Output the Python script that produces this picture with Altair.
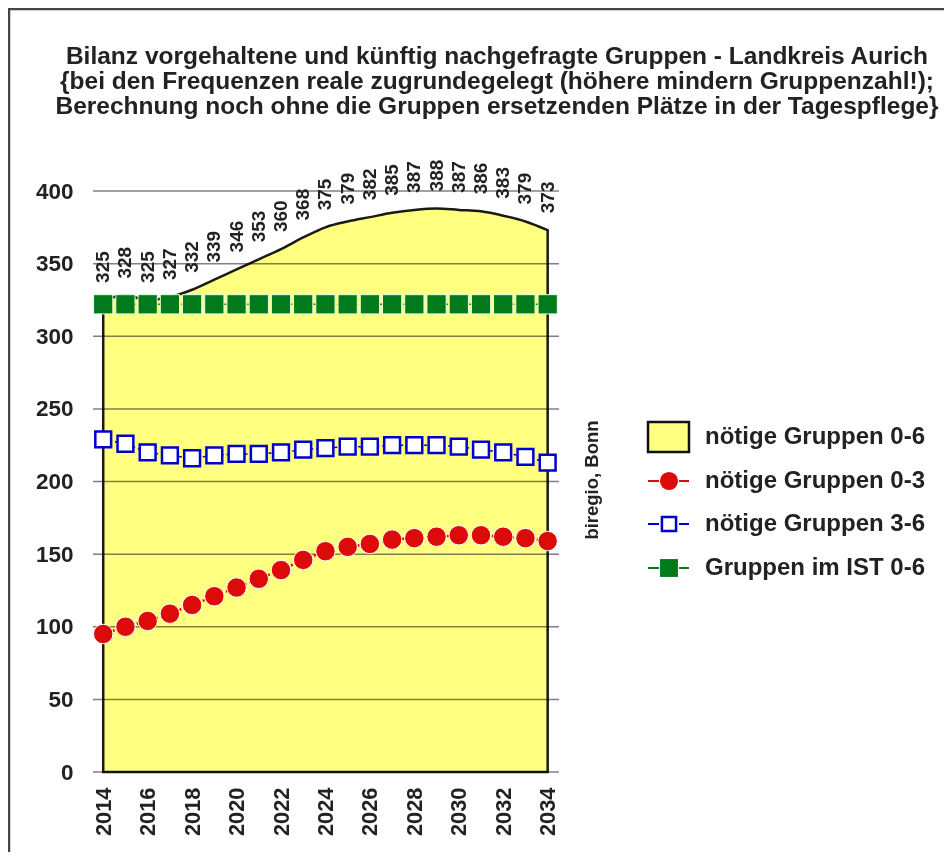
import altair as alt
import pandas as pd

years = list(range(2014, 2035))
total_0_6 = [325, 328, 325, 327, 332, 339, 346, 353, 360, 368, 375, 379, 382, 385, 387, 388, 387, 386, 383, 379, 373]
need_0_3 = [95, 100, 104, 109, 115, 121, 127, 133, 139, 146, 152, 155, 157, 160, 161, 162, 163, 163, 162, 161, 159]
need_3_6 = [229, 226, 220, 218, 216, 218, 219, 219, 220, 222, 223, 224, 224, 225, 225, 225, 224, 222, 220, 217, 213]
ist_0_6 = [322] * 21
grid_vals = [0, 50, 100, 150, 200, 250, 300, 350, 400]
x_ticks = list(range(2014, 2035, 2))

title_lines = [
    "Bilanz vorgehaltene und künftig nachgefragte Gruppen - Landkreis Aurich",
    "{bei den Frequenzen reale zugrundegelegt (höhere mindern Gruppenzahl!);",
    "Berechnung noch ohne die Gruppen ersetzenden Plätze in der Tagespflege}",
]
legend_labels = ["nötige Gruppen 0-6", "nötige Gruppen 0-3", "nötige Gruppen 3-6", "Gruppen im IST 0-6"]
credit = "biregio, Bonn"

F = "Liberation Sans"
TXT = "#222222"
YELLOW = "#ffff80"
RED = "#dd0a0a"
BLUE = "#0000cc"
GREEN = "#007a1a"

W, H = 466, 581

df = pd.DataFrame({
    "year": years,
    "total": total_0_6,
    "n03": need_0_3,
    "n36": need_3_6,
    "ist": ist_0_6,
})
gdf = pd.DataFrame({"g": grid_vals})
one = pd.DataFrame({"a": [0]})

xs = alt.Scale(domain=[2013.54, 2034.51], nice=False, zero=False)
ys = alt.Scale(domain=[0, 400], nice=False)

X = alt.X("year:Q", scale=xs, title=None,
          axis=alt.Axis(values=x_ticks, format="d", labelAngle=-90, grid=False, domain=False,
                        ticks=False, tickSize=0, labelPadding=15, labelFont=F, labelFontSize=21.8,
                        labelFontWeight="bold", labelColor=TXT))
Yax = alt.Axis(values=grid_vals, grid=False, domain=False, ticks=False, tickSize=0, labelPadding=20,
               labelFont=F, labelFontSize=22.5, labelFontWeight="bold", labelColor=TXT)

base = alt.Chart(df)

area = base.mark_area(interpolate="monotone", fill=YELLOW, stroke="#1a1a1a", strokeWidth=2.5).encode(
    x=X, y=alt.Y("total:Q", scale=ys, title=None, axis=Yax)
)

grid = alt.Chart(gdf).mark_rule(color="#808080", strokeWidth=1.5, blend="multiply").encode(
    y=alt.Y("g:Q", scale=ys), x=alt.value(0), x2=alt.value(W)
)

red_line = base.mark_line(color=RED, strokeWidth=2.5, strokeDash=[2, 3]).encode(
    x=alt.X("year:Q", scale=xs), y=alt.Y("n03:Q", scale=ys))
red_pts = base.mark_point(shape="circle", filled=True, fill=RED, stroke="white", strokeWidth=1,
                          opacity=1, size=380).encode(
    x=alt.X("year:Q", scale=xs), y=alt.Y("n03:Q", scale=ys))

blue_line = base.mark_line(color=BLUE, strokeWidth=1.5, strokeDash=[3, 3]).encode(
    x=alt.X("year:Q", scale=xs), y=alt.Y("n36:Q", scale=ys))
blue_pts = base.mark_point(shape="square", filled=True, fill="white", stroke=BLUE, strokeWidth=2.5,
                           opacity=1, size=250).encode(
    x=alt.X("year:Q", scale=xs), y=alt.Y("n36:Q", scale=ys))

green_line = base.mark_line(color=GREEN, strokeWidth=1.5, strokeDash=[3, 3]).encode(
    x=alt.X("year:Q", scale=xs), y=alt.Y("ist:Q", scale=ys))
green_pts = base.mark_point(shape="square", filled=True, fill=GREEN, stroke="#e8ffe8", strokeWidth=1,
                            opacity=1, size=370).encode(
    x=alt.X("year:Q", scale=xs), y=alt.Y("ist:Q", scale=ys))

labels = base.mark_text(angle=270, align="left", baseline="middle", dx=17, font=F, fontSize=19,
                        fontWeight="bold", color=TXT).encode(
    x=alt.X("year:Q", scale=xs), y=alt.Y("total:Q", scale=ys), text=alt.Text("total:Q", format="d"))


def txt(text, x, y, size, **kw):
    return alt.Chart(one).mark_text(text=text, x=x, y=y, font=F, fontSize=size, fontWeight="bold",
                                    color=TXT, **kw)


layers = [area, grid, red_line, blue_line, green_line, red_pts, blue_pts, green_pts, labels]

# title
for i, line in enumerate(title_lines):
    layers.append(txt(line, 404, -134 + 25 * i, 24.5, align="center", baseline="middle"))

# credit
layers.append(txt(credit, 499, 289, 18.5, angle=270, align="center", baseline="middle"))

# legend
leg_y = [246, 290, 333, 377]
for lab, yy in zip(legend_labels, leg_y):
    layers.append(txt(lab, 612, yy, 24, align="left", baseline="middle"))

layers.append(alt.Chart(one).mark_rect(x=555, x2=596, y=231, y2=261, fill=YELLOW, stroke="#111111",
                                       strokeWidth=2.5))
for yy, col in [(290, RED), (333, BLUE), (377, GREEN)]:
    layers.append(alt.Chart(one).mark_rule(color=col, strokeWidth=2).encode(
        x=alt.value(555), x2=alt.value(566), y=alt.value(yy)))
    layers.append(alt.Chart(one).mark_rule(color=col, strokeWidth=2).encode(
        x=alt.value(586), x2=alt.value(596), y=alt.value(yy)))
layers.append(alt.Chart(one).mark_point(shape="circle", filled=True, fill=RED, opacity=1, size=330,
                                        x=576, y=290))
layers.append(alt.Chart(one).mark_point(shape="square", filled=True, fill="white", stroke=BLUE,
                                        strokeWidth=2.5, opacity=1, size=200, x=576, y=333))
layers.append(alt.Chart(one).mark_point(shape="square", filled=True, fill=GREEN, opacity=1, size=320,
                                        x=576, y=377))

# outer frame
layers.append(alt.Chart(one).mark_rect(x=-84, x2=900, y=-182, y2=800, filled=False,
                                       stroke="#444444", strokeWidth=2.5))

chart = alt.layer(*layers).properties(
    width=W, height=H,
    autosize=alt.AutoSizeParams(type="none"),
    padding={"left": 85, "top": 183, "right": 385, "bottom": 80},
).configure_view(stroke=None)

chart.save("out.html", embed_options={"renderer": "svg", "actions": False})
